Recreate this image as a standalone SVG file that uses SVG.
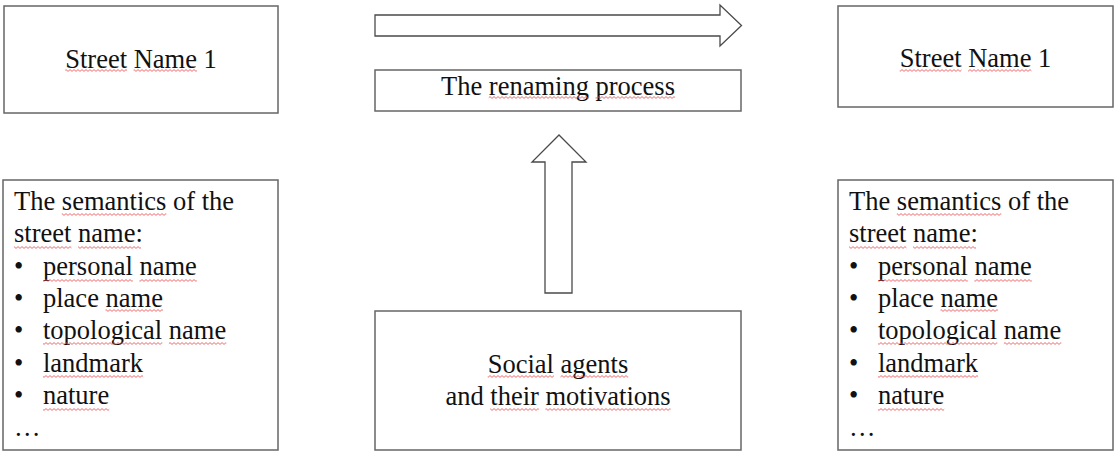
<svg xmlns="http://www.w3.org/2000/svg" xmlns:xlink="http://www.w3.org/1999/xlink" width="1115" height="451" viewBox="0 0 1115 451">
<style>
.box{fill:#fff;stroke:#666;stroke-width:1.5}
.arrow{fill:#fff;stroke:#4a4a4a;stroke-width:1.3;stroke-linejoin:miter}
.t{font-family:"Liberation Serif","Times New Roman",serif;font-size:26.5px;fill:#111}
.c{text-anchor:middle}
.sq{fill:url(#squig)}
</style>
<defs>
<pattern id="squig" x="0" y="0" width="4" height="3" patternUnits="userSpaceOnUse">
<path d="M0,2.4 L2,0.6 L4,2.4" fill="none" stroke="#e8474a" stroke-width="0.8"/>
</pattern>
<g id="semList">
<text class="t" x="14" y="210">The semantics of the</text>
<text class="t" x="14" y="242.3">street name:</text>
<text class="t" x="14" y="274.6">•</text><text class="t" x="43" y="274.6">personal name</text>
<text class="t" x="14" y="306.9">•</text><text class="t" x="43" y="306.9">place name</text>
<text class="t" x="14" y="339.2">•</text><text class="t" x="43" y="339.2">topological name</text>
<text class="t" x="14" y="371.5">•</text><text class="t" x="43" y="371.5">landmark</text>
<text class="t" x="14" y="403.8">•</text><text class="t" x="43" y="403.8">nature</text>
<text class="t" x="14" y="436.1">…</text>
<rect class="sq" x="61.8" y="213" width="104.5" height="3"/>
<rect class="sq" x="14" y="246" width="57.4" height="3"/>
<rect class="sq" x="78" y="246" width="63" height="3"/>
<rect class="sq" x="43" y="279" width="89.8" height="3"/>
<rect class="sq" x="139.4" y="279" width="57.4" height="3"/>
<rect class="sq" x="105.5" y="309" width="57.4" height="3"/>
<rect class="sq" x="43" y="342" width="119.3" height="3"/>
<rect class="sq" x="168.9" y="342" width="57.4" height="3"/>
<rect class="sq" x="43" y="375" width="100.1" height="3"/>
<rect class="sq" x="43" y="408" width="66.2" height="3"/>
</g>
</defs>
<rect width="1115" height="451" fill="#fff"/>

<g id="street-name-left">
<rect class="box" x="4" y="6" width="274" height="107"/>
<text class="t c" x="141" y="68">Street Name 1</text>
<rect class="sq" x="65.2" y="69" width="61.8" height="3"/>
<rect class="sq" x="133.6" y="69" width="63.3" height="3"/>
</g>

<g id="street-name-right">
<rect class="box" x="838" y="6" width="275" height="101"/>
<text class="t c" x="975.5" y="67">Street Name 1</text>
<rect class="sq" x="899.7" y="69" width="61.8" height="3"/>
<rect class="sq" x="968.1" y="69" width="63.3" height="3"/>
</g>

<g id="renaming-process">
<rect class="box" x="375" y="70" width="366" height="41"/>
<text class="t c" x="558" y="95">The renaming process</text>
<rect class="sq" x="488.8" y="96" width="100.1" height="3"/>
<rect class="sq" x="595.5" y="96" width="79.5" height="3"/>
</g>

<g id="semantics-left">
<rect class="box" x="3" y="180" width="275" height="270"/>
<use xlink:href="#semList" href="#semList"/>
</g>

<g id="semantics-right">
<rect class="box" x="838" y="180" width="275" height="270"/>
<use xlink:href="#semList" href="#semList" transform="translate(835,0)"/>
</g>

<g id="social-agents">
<rect class="box" x="375" y="311" width="366" height="139"/>
<text class="t c" x="558" y="373">Social agents</text>
<text class="t c" x="558" y="405">and their motivations</text>
<rect class="sq" x="487.7" y="375" width="66.2" height="3"/>
<rect class="sq" x="560.5" y="375" width="67.7" height="3"/>
<rect class="sq" x="490.2" y="408" width="48.6" height="3"/>
<rect class="sq" x="545.4" y="408" width="125.2" height="3"/>
</g>

<g id="connectors">
<polygon class="arrow" points="375,15 720,15 720,5 741.5,25.5 720,46 720,36 375,36"/>
<polygon class="arrow" points="545,293 545,162 532,162 559,135 586,162 572,162 572,293"/>
</g>
</svg>
